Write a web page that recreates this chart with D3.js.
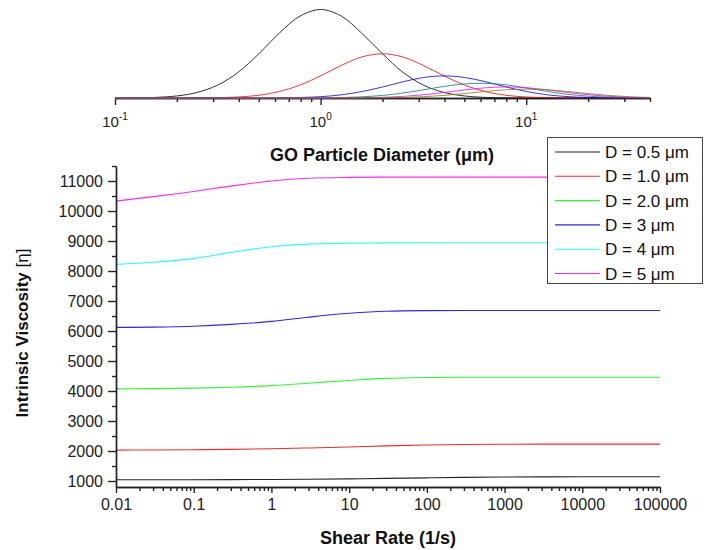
<!DOCTYPE html>
<html>
<head>
<meta charset="utf-8">
<script src="https://cdn.jsdelivr.net/npm/d3@7"></script>
<style>
  html, body { margin: 0; padding: 0; background: #fff; }
  svg { display: block; font-family: Arial, "Liberation Sans", sans-serif; }
</style>
</head>
<body>
<svg id="chart" width="704" height="550"></svg>
<script>
// ---- Particle size distributions (upper panel) ----
const diameters = [0.1, 0.126, 0.158, 0.2, 0.251, 0.316, 0.398, 0.501, 0.631, 0.794,
                   1, 1.26, 1.58, 2, 2.51, 3.16, 3.98, 5.01, 6.31, 7.94,
                   10, 12.6, 15.8, 20, 25.1, 31.6, 40];
const distBlack   = [0, 0.002, 0.007, 0.023, 0.063, 0.146, 0.292, 0.5, 0.735, 0.926, 1, 0.926, 0.735, 0.5, 0.292, 0.146, 0.063, 0.023, 0.007, 0.002, 0, 0, 0, 0, 0, 0, 0];
const distRed     = [0, 0, 0, 0, 0.001, 0.004, 0.012, 0.031, 0.073, 0.146, 0.25, 0.368, 0.463, 0.5, 0.463, 0.368, 0.25, 0.146, 0.073, 0.031, 0.012, 0.004, 0.001, 0, 0, 0, 0];
const distBlue    = [0, 0, 0, 0, 0, 0, 0, 0, 0.002, 0.006, 0.015, 0.036, 0.072, 0.124, 0.183, 0.231, 0.25, 0.232, 0.185, 0.126, 0.074, 0.037, 0.016, 0.006, 0.002, 0.001, 0];
const distTeal    = [0, 0, 0, 0, 0, 0, 0, 0, 0, 0.001, 0.002, 0.005, 0.013, 0.029, 0.056, 0.092, 0.131, 0.159, 0.166, 0.149, 0.114, 0.075, 0.042, 0.021, 0.009, 0.003, 0.001];
const distMagenta = [0, 0, 0, 0, 0, 0, 0, 0, 0, 0, 0, 0.001, 0.003, 0.008, 0.018, 0.036, 0.062, 0.091, 0.115, 0.125, 0.116, 0.093, 0.063, 0.037, 0.019, 0.008, 0.003];
const distOlive   = [0, 0, 0, 0, 0, 0, 0, 0, 0, 0, 0, 0, 0.001, 0.002, 0.006, 0.015, 0.029, 0.05, 0.074, 0.093, 0.1, 0.093, 0.074, 0.05, 0.029, 0.015, 0.006];
const distSeries = [distBlack, distRed, distBlue, distTeal, distMagenta, distOlive];
const distColors = ["#000000", "#ff0000", "#0000ff", "#008080", "#ff00ff", "#808000"];
const topTickValues = [0.1, 1, 10];
const topTickExponents = ["-1", "0", "1"];

// ---- Intrinsic viscosity vs shear rate (main panel) ----
const shearRates = [0.01, 0.03, 0.1, 0.3, 1, 3, 10, 30, 100, 300, 1000, 3000, 10000, 30000, 100000];
const viscD05 = [1040, 1041, 1043, 1046, 1052, 1060, 1072, 1088, 1105, 1120, 1131, 1137, 1140, 1140, 1140];
const viscD10 = [2030, 2034, 2042, 2055, 2075, 2102, 2135, 2170, 2200, 2218, 2226, 2229, 2230, 2230, 2230];
const viscD20 = [4070, 4078, 4095, 4125, 4180, 4260, 4350, 4420, 4450, 4458, 4460, 4460, 4460, 4460, 4460];
const viscD30 = [6120, 6130, 6160, 6220, 6320, 6460, 6590, 6660, 6680, 6685, 6685, 6685, 6685, 6685, 6685];
const viscD40 = [8220, 8290, 8420, 8620, 8810, 8895, 8925, 8938, 8940, 8940, 8940, 8940, 8940, 8940, 8940];
const viscD50 = [10330, 10480, 10650, 10830, 11000, 11090, 11120, 11130, 11130, 11130, 11130, 11130, 11130, 11130, 11130];
const viscSeries = [viscD05, viscD10, viscD20, viscD30, viscD40, viscD50];
const seriesNames = ["D = 0.5 \u03bcm", "D = 1.0 \u03bcm", "D = 2.0 \u03bcm", "D = 3 \u03bcm", "D = 4 \u03bcm", "D = 5 \u03bcm"];
const seriesColors = ["#000000", "#ff0000", "#00ff00", "#0000ff", "#00ffff", "#ff00ff"];
const xTickValues = [0.01, 0.1, 1, 10, 100, 1000, 10000, 100000];
const xTickLabels = ["0.01", "0.1", "1", "10", "100", "1000", "10000", "100000"];
const yTickValues = [1000, 2000, 3000, 4000, 5000, 6000, 7000, 8000, 9000, 10000, 11000];

const svg = d3.select("#chart");
svg.append("rect").attr("width", 704).attr("height", 550).attr("fill", "#fff");

function minorLogTicks(lo, hi) {
  const out = [];
  for (let e = Math.floor(Math.log10(lo)); e <= Math.ceil(Math.log10(hi)); e++) {
    for (let m = 2; m <= 9; m++) {
      const v = m * Math.pow(10, e);
      if (v > lo * 1.0001 && v <= hi * 1.0001) out.push(v);
    }
  }
  return out;
}

function styleAxis(g) {
  g.selectAll("path.domain").attr("stroke", "#222").attr("stroke-width", 1.4);
  g.selectAll(".tick line").attr("stroke", "#222").attr("stroke-width", 1.4);
}

// ===== Upper panel =====
const xTop = d3.scaleLog().domain([0.1, 40]).range([115, 650]);
const yTop = d3.scaleLinear().domain([0, 1]).range([98, 9.5]);

const topAxisG = svg.append("g").attr("transform", "translate(0,98)");
topAxisG.append("g")
  .call(d3.axisBottom(xTop).tickValues(minorLogTicks(0.1, 40)).tickSize(4).tickSizeOuter(0).tickFormat(""))
  .call(styleAxis);
topAxisG.append("g")
  .call(d3.axisBottom(xTop).tickValues(topTickValues).tickSize(7).tickSizeOuter(0).tickFormat(""))
  .call(styleAxis);

topTickValues.forEach((v, i) => {
  const t = svg.append("text")
    .attr("x", xTop(v)).attr("y", 127)
    .attr("text-anchor", "middle")
    .attr("font-size", 15).attr("fill", "#222");
  t.append("tspan").text("10");
  t.append("tspan").attr("font-size", 10).attr("dy", -7).text(topTickExponents[i]);
});

const topLine = d3.line()
  .x((d, i) => xTop(diameters[i]))
  .y(d => yTop(d))
  .curve(d3.curveCatmullRom.alpha(0.5));

distSeries.forEach((s, k) => {
  svg.append("path")
    .attr("d", topLine(s))
    .attr("fill", "none")
    .attr("stroke", distColors[k])
    .attr("stroke-width", 1)
    .attr("stroke-opacity", 0.8);
});

svg.append("text")
  .attr("x", 382).attr("y", 161)
  .attr("text-anchor", "middle")
  .attr("font-size", 18).attr("font-weight", "bold").attr("fill", "#111")
  .text("GO Particle Diameter (\u03bcm)");

// ===== Main panel =====
const x = d3.scaleLog().domain([0.01, 100000]).range([116, 660]);
const y = d3.scaleLinear().domain([800, 11500]).range([487, 166]);

const mainLine = d3.line()
  .x((d, i) => x(shearRates[i]))
  .y(d => y(d))
  .curve(d3.curveMonotoneX);

viscSeries.forEach((s, k) => {
  svg.append("path")
    .attr("d", mainLine(s))
    .attr("fill", "none")
    .attr("stroke", seriesColors[k])
    .attr("stroke-width", 1.1)
    .attr("stroke-opacity", 0.85);
});

// x axis
const xAxisG = svg.append("g").attr("transform", "translate(0,487)");
xAxisG.append("g")
  .call(d3.axisBottom(x).tickValues(minorLogTicks(0.01, 100000)).tickSize(4).tickSizeOuter(0).tickFormat(""))
  .call(styleAxis);
xAxisG.append("g")
  .call(d3.axisBottom(x).tickValues(xTickValues).tickSize(6).tickSizeOuter(0).tickPadding(6)
    .tickFormat((d, i) => xTickLabels[i]))
  .call(styleAxis)
  .call(g => g.selectAll("text").attr("font-size", 16).attr("fill", "#222")
    .attr("font-family", "Arial, 'Liberation Sans', sans-serif"));

// y axis
const yMinor = d3.range(1500, 11501, 1000);
const yAxisG = svg.append("g").attr("transform", "translate(116,0)");
yAxisG.append("g")
  .call(d3.axisLeft(y).tickValues(yMinor).tickSize(4).tickSizeOuter(0).tickFormat(""))
  .call(styleAxis);
yAxisG.append("g")
  .call(d3.axisLeft(y).tickValues(yTickValues).tickSize(8).tickSizeOuter(0).tickPadding(5)
    .tickFormat(d3.format("d")))
  .call(styleAxis)
  .call(g => g.selectAll("text").attr("font-size", 16).attr("fill", "#222")
    .attr("font-family", "Arial, 'Liberation Sans', sans-serif"));

// axis titles
svg.append("text")
  .attr("x", 388).attr("y", 544)
  .attr("text-anchor", "middle")
  .attr("font-size", 18).attr("font-weight", "bold").attr("fill", "#111")
  .text("Shear Rate (1/s)");

const yTitle = svg.append("text")
  .attr("transform", "translate(28,333) rotate(-90)")
  .attr("text-anchor", "middle")
  .attr("font-size", 17).attr("font-weight", "bold").attr("fill", "#111");
yTitle.append("tspan").text("Intrinsic Viscosity ");
yTitle.append("tspan").attr("font-weight", "normal").text("[\u03b7]");

// legend
const legend = svg.append("g");
legend.append("rect")
  .attr("x", 547.5).attr("y", 137.5).attr("width", 155).attr("height", 146)
  .attr("fill", "#fff").attr("stroke", "#444").attr("stroke-width", 1);
seriesNames.forEach((name, i) => {
  const cy = 152 + i * 24.3;
  legend.append("line")
    .attr("x1", 555).attr("x2", 600).attr("y1", cy).attr("y2", cy)
    .attr("stroke", seriesColors[i]).attr("stroke-width", 1.1).attr("stroke-opacity", 0.85);
  legend.append("text")
    .attr("x", 605).attr("y", cy).attr("dy", "0.36em")
    .attr("font-size", 17).attr("fill", "#111")
    .text(name);
});
</script>
</body>
</html>
